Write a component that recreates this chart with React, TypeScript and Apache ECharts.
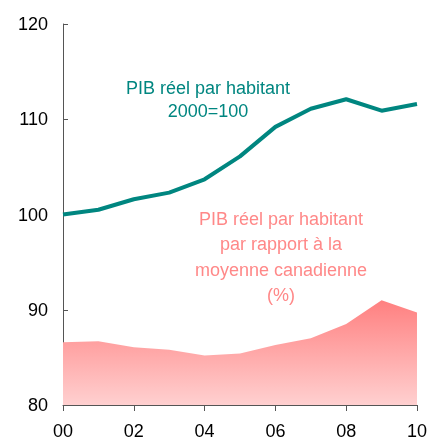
import React, { useEffect, useRef } from "react";
import * as echarts from "echarts";

const years = ["00", "01", "02", "03", "04", "05", "06", "07", "08", "09", "10"];
const gdpIndex = [100, 100.5, 101.6, 102.3, 103.7, 106.1, 109.2, 111.1, 112.1, 110.9, 111.6];
const gdpRelative = [86.6, 86.7, 86.05, 85.8, 85.2, 85.4, 86.3, 87.0, 88.5, 91.0, 89.7];
const yTicks = { min: 80, max: 120, interval: 10 };
const tealLabel = ["PIB réel par habitant", "2000=100"];
const pinkLabel = ["PIB réel par habitant", "par rapport à la", "moyenne canadienne", "(%)"];

const FONT = "'Liberation Sans', Arial, sans-serif";
const TEAL = "#008680";
const PINK = "#ff8888";

export default function App() {
  const ref = useRef<HTMLDivElement>(null);
  useEffect(() => {
    if (!ref.current) return;
    const chart = echarts.init(ref.current, undefined, { renderer: "svg" });
    chart.setOption({
      animation: false,
      grid: { left: 63, right: 9, top: 24, bottom: 35 },
      xAxis: {
        type: "category",
        data: years,
        boundaryGap: false,
        axisLine: { show: true, lineStyle: { color: "#555", width: 1 } },
        axisTick: { show: true, inside: false, length: 6, interval: 1, lineStyle: { color: "#555" } },
        axisLabel: {
          interval: 1,
          color: "#000",
          fontSize: 18,
          fontFamily: FONT,
          margin: 17,
          alignMinLabel: "center",
          alignMaxLabel: "center",
        },
        splitLine: { show: false },
      },
      yAxis: {
        type: "value",
        min: yTicks.min,
        max: yTicks.max,
        interval: yTicks.interval,
        axisLine: { show: true, lineStyle: { color: "#555", width: 1 } },
        axisTick: { show: true, inside: true, length: 5, lineStyle: { color: "#555" } },
        axisLabel: { color: "#000", fontSize: 18, fontFamily: FONT, margin: 15 },
        splitLine: { show: false },
      },
      series: [
        {
          type: "line",
          data: gdpRelative,
          symbol: "none",
          lineStyle: { width: 0 },
          areaStyle: {
            opacity: 1,
            color: new echarts.graphic.LinearGradient(0, 0, 0, 1, [
              { offset: 0, color: "#ff8080" },
              { offset: 1, color: "#ffd0d0" },
            ]),
          },
          z: 1,
        },
        {
          type: "line",
          data: gdpIndex,
          symbol: "none",
          lineStyle: { width: 4, color: TEAL },
          z: 2,
        },
      ],
      graphic: [
        {
          type: "text",
          x: 208,
          y: 76,
          style: {
            text: tealLabel.join("\n"),
            fill: TEAL,
            font: `18px ${FONT}`,
            textAlign: "center",
            lineHeight: 23,
          },
        },
        {
          type: "text",
          x: 281,
          y: 206,
          style: {
            text: pinkLabel.join("\n"),
            fill: PINK,
            font: `18px ${FONT}`,
            textAlign: "center",
            lineHeight: 25.5,
          },
        },
      ],
    });
    return () => chart.dispose();
  }, []);
  return <div ref={ref} style={{ position: "fixed", left: 0, top: 0, width: 430, height: 440 }} />;
}
